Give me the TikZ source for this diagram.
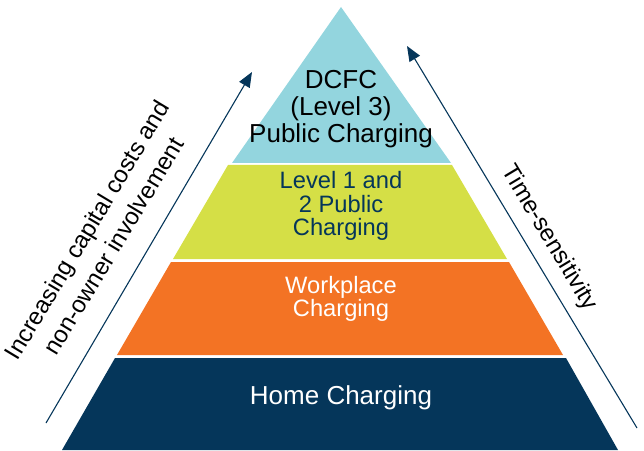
\documentclass[tikz,border=0pt]{standalone}
\usepackage{fontspec}
\setmainfont{Liberation Sans}
\usetikzlibrary{arrows.meta}
\definecolor{dcfcblue}{RGB}{147,213,222}
\definecolor{levelgreen}{RGB}{213,223,70}
\definecolor{workorange}{RGB}{243,115,36}
\definecolor{homenavy}{RGB}{5,54,90}
\tikzset{
  layertext/.style={align=center, inner sep=0pt},
  sidearrow/.style={-{Triangle[length=15pt,width=12pt]}, homenavy, line width=1.1pt},
  sidetext/.style={align=center, inner sep=0pt, font=\fontsize{24}{31}\selectfont}
}
\begin{document}
\begin{tikzpicture}[x=1pt,y=1pt]
\useasboundingbox (0,0) rectangle (644,450);
% corners of the layers
\coordinate (apex) at (341,443);
\coordinate (tl) at (232,287);
\coordinate (tr) at (451,287);
\coordinate (la) at (228,285);
\coordinate (lb) at (452,285);
\coordinate (lc) at (507,191);
\coordinate (ld) at (173,191);
\coordinate (wa) at (171,188);
\coordinate (wb) at (509,188);
\coordinate (wc) at (563,95);
\coordinate (wd) at (117,95);
\coordinate (ha) at (115,92);
\coordinate (hb) at (566,92);
\coordinate (hc) at (618,0);
\coordinate (hd) at (62,0);
\fill [dcfcblue] (apex) -- (tl) -- (tr) -- cycle;
\fill [levelgreen] (la) -- (lb) -- (lc) -- (ld) -- cycle;
\fill [workorange] (wa) -- (wb) -- (wc) -- (wd) -- cycle;
\fill [homenavy] (ha) -- (hb) -- (hc) -- (hd) -- cycle;
% layer labels
\node[layertext, font=\fontsize{26}{26.7}\selectfont] (dcfc) at (341,341) {DCFC\\(Level 3)\\Public Charging};
\node[layertext, homenavy, font=\fontsize{23.7}{23.3}\selectfont] (level) at (341,244) {Level 1 and\\2 Public\\Charging};
\node[layertext, white, font=\fontsize{23.7}{23.3}\selectfont] (work) at (341,151) {Workplace\\Charging};
\node[layertext, white, font=\fontsize{26}{26}\selectfont] (home) at (341,52) {Home Charging};
% side arrows
\coordinate (costtail) at (46,27);
\coordinate (costtip) at (252,378);
\coordinate (timetail) at (637,22);
\coordinate (timetip) at (407,404);
\draw[sidearrow] (costtail) -- (costtip);
\draw[sidearrow] (timetail) -- (timetip);
\node[sidetext, rotate=59] (cost) at (100,212) {Increasing capital costs and\\non-owner involvement};
\node[sidetext, rotate=-59] (time) at (549,212) {Time-sensitivity};
\end{tikzpicture}
\end{document}
